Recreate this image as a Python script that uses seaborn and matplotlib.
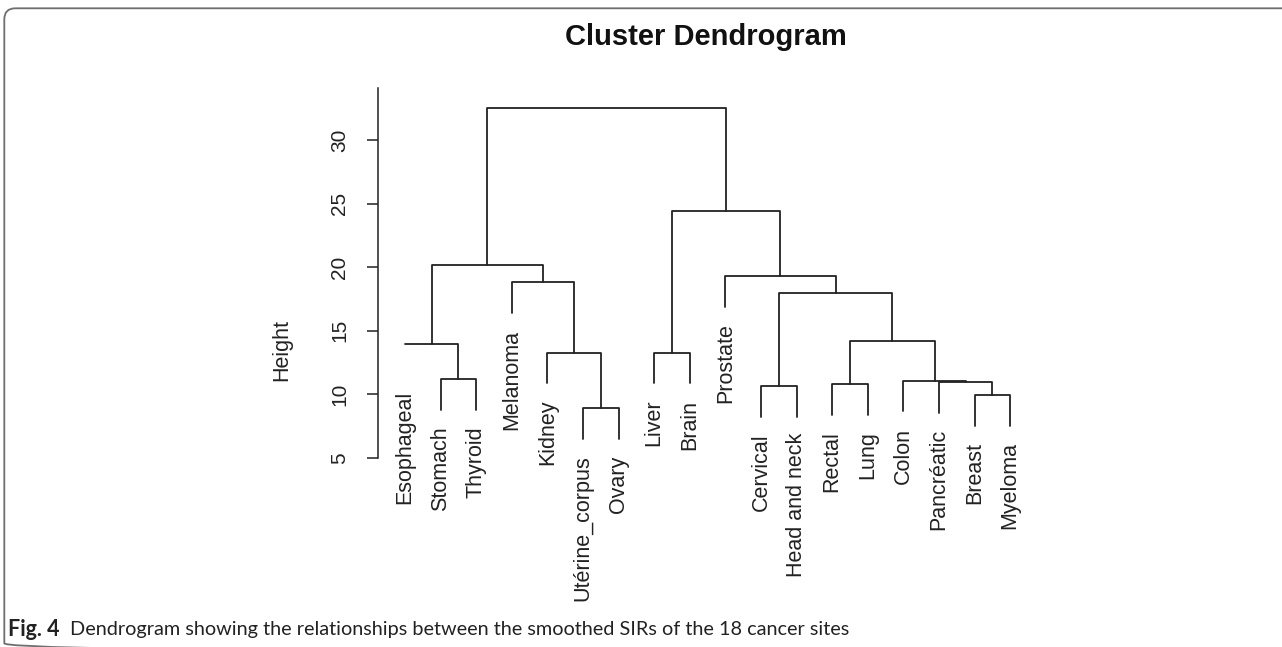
import matplotlib
matplotlib.use("Agg")
import matplotlib.pyplot as plt
from matplotlib.patches import FancyBboxPatch
import seaborn as sns
import pandas as pd

# ---------------- data ----------------
leaf_labels = ["Esophageal", "Stomach", "Thyroid", "Melanoma", "Kidney",
               "Utérine_corpus", "Ovary", "Liver", "Brain", "Prostate",
               "Cervical", "Head and neck", "Rectal", "Lung", "Colon",
               "Pancréatic", "Breast", "Myeloma"]

# R-style merge matrix: negative = leaf (1-based), positive = earlier merge row
merge_left = [-6, -17, -11, -13, -16, -15, -2, -5, -8, -1, 4, 3, -4, -10, 10, 9, 15]
merge_right = [-7, -18, -12, -14, 2, 5, -3, 1, -9, 7, 6, 11, 8, 12, 13, 14, 16]
merge_height = [8.9, 9.93, 10.66, 10.79, 10.97, 11.08, 11.2, 13.28, 13.28, 14.0,
                14.2, 18.0, 18.8, 19.3, 20.17, 24.44, 32.5]

y_ticks = [5, 10, 15, 20, 25, 30]
leaf_line_hidden = ["Esophageal"]

title = "Cluster Dendrogram"
y_label = "Height"
caption_bold = "Fig. 4"
caption_text = "Dendrogram showing the relationships between the smoothed SIRs of the 18 cancer sites"

# ---------------- style ----------------
sns.set_theme(style="white")
plt.rcParams["font.family"] = ["Liberation Sans", "DejaVu Sans"]
INK = "#222222"
HANG = 2.4
LABEL_GAP = 1.3

fig = plt.figure(figsize=(12.82, 6.47), dpi=100)

# background frame (pixel coordinates)
bg = fig.add_axes([0, 0, 1, 1], zorder=-1)
bg.set_xlim(0, 1282)
bg.set_ylim(647, 0)
bg.axis("off")
bg.add_patch(FancyBboxPatch((4.3, 8.3), 1400, 646, boxstyle="round,pad=0,rounding_size=11",
                            fill=False, ec="#6e6e6e", lw=1.3))

ax = fig.add_axes([378 / 1282, (647 - 458) / 647, 650 / 1282, (458 - 88) / 647])

# ---------------- compute dendrogram geometry ----------------
cluster_x = {}
segments = []
leaf_end = {}


def child_info(c, h):
    if c < 0:
        i = -c
        bottom = h - HANG
        leaf_end[i] = bottom
        if leaf_labels[i - 1] in leaf_line_hidden:
            return float(i), h
        return float(i), bottom
    return cluster_x[c], merge_height[c - 1]


for k, (l, r, h) in enumerate(zip(merge_left, merge_right, merge_height), start=1):
    xl, yl = child_info(l, h)
    xr, yr = child_info(r, h)
    cluster_x[k] = (xl + xr) / 2
    segments.append(pd.DataFrame({"x": [xl, xl, xr, xr], "y": [yl, h, h, yr], "seg": k}))

df = pd.concat(segments, ignore_index=True)
sns.lineplot(data=df, x="x", y="y", units="seg", estimator=None, sort=False,
             color=INK, lw=1.3, ax=ax, legend=False)

for i, name in enumerate(leaf_labels, start=1):
    ax.text(i, leaf_end[i] - LABEL_GAP, name, rotation=90, ha="center", va="top",
            fontsize=15.5, color=INK, clip_on=False)

ax.set_xlim(0.2416, 18.5)
ax.set_ylim(5, 34.09)
ax.set_xticks([])
ax.set_yticks(y_ticks)
ax.set_yticklabels([str(t) for t in y_ticks], rotation=90, va="center")
ax.tick_params(axis="y", left=True, length=7.9, width=1.1, pad=13, labelsize=15,
               colors=INK, direction="out")
ax.set_xlabel("")
ax.set_ylabel("")
for s in ["top", "right", "bottom"]:
    ax.spines[s].set_visible(False)
ax.spines["left"].set_color(INK)
ax.spines["left"].set_linewidth(1.1)
ax.patch.set_alpha(0)

fig.text(706 / 1282, 1 - 37 / 647, title, ha="center", va="center",
         fontsize=21, fontweight="bold", color="#111111")
fig.text(282 / 1282, 1 - 350 / 647, y_label, ha="center", va="center", rotation=90,
         fontsize=15.5, color=INK)

# caption
renderer = fig.canvas.get_renderer()
t1 = fig.text(8 / 1282, 1 - 630 / 647, caption_bold, ha="left", va="center",
              fontsize=15.5, fontweight="bold", family=["Lato", "DejaVu Sans"], color="#222222")
bb = t1.get_window_extent(renderer=renderer)
fig.text((bb.x1 + 11) / 1282, 1 - 630 / 647, caption_text, ha="left", va="center",
         fontsize=14.3, family=["Lato", "DejaVu Sans"], color="#222222")

fig.savefig("out.png", dpi=100)
